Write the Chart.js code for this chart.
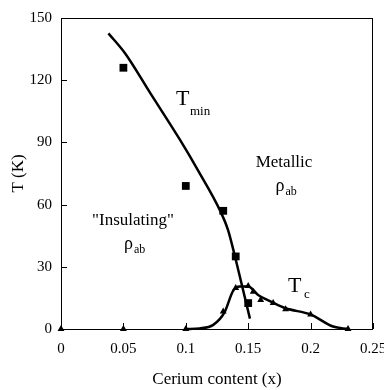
<!DOCTYPE html>
<html>
<head>
<meta charset="utf-8">
<script src="https://cdn.jsdelivr.net/npm/chart.js@4/dist/chart.umd.min.js"></script>
<style>
  html, body { margin: 0; padding: 0; background: #fff; }
  canvas { display: block; }
</style>
</head>
<body>
<canvas id="phase" width="384" height="390"></canvas>
<script>
// Cerium content (x) against temperature T (K)

// T_min measured points (squares)
const tminX = [0.05, 0.10, 0.13, 0.14, 0.15];
const tminT = [126, 69, 57, 35, 12.5];

// T_min guide curve
const tminCurveX = [0.038, 0.0513, 0.0713, 0.0954, 0.11, 0.1274, 0.1338, 0.1394, 0.1454, 0.1514];
const tminCurveT = [142.6, 133, 114, 91.2, 76.3, 57.2, 47.8, 35, 20, 5];

// T_c measured points (triangles)
const tcX = [0, 0.05, 0.10, 0.13, 0.14, 0.15, 0.154, 0.16, 0.17, 0.18, 0.20, 0.23];
const tcT = [0, 0, 0, 8.5, 19.8, 20.7, 18, 14, 12.5, 9.5, 7, 0];

// T_c guide curve
const tcCurveX = [0.10, 0.111, 0.122, 0.131, 0.138, 0.1434, 0.15, 0.158, 0.169, 0.18, 0.20, 0.218, 0.23];
const tcCurveT = [0, 0.3, 2, 8, 18.5, 20.5, 20.5, 16.4, 13, 10, 7, 1.2, 0];

// Axis tick labels
const xTickLabels = ['0', '0.05', '0.1', '0.15', '0.2', '0.25'];
const yTickLabels = ['0', '30', '60', '90', '120', '150'];

const pairs = (xs, ys) => xs.map((v, i) => ({ x: v, y: ys[i] }));

const SERIF = '"Liberation Serif", "Times New Roman", serif';

// Region and curve labels: main text, subscript, anchor in data units
const annotations = [
  { main: 'T', sub: 'min', x: 0.0921, y: 108, mainSize: 22, subSize: 13, subDx: 14, subDy: 10 },
  { main: 'T', sub: 'c', x: 0.1819, y: 17.8, mainSize: 22, subSize: 13, subDx: 16, subDy: 6 },
  { text: 'Metallic', x: 0.1787, y: 78.1, size: 17 },
  { main: '\u03C1', sub: 'ab', x: 0.1719, y: 66.5, mainSize: 18, subSize: 12, subDx: 10, subDy: 4 },
  { text: '"Insulating"', x: 0.0577, y: 50.2, size: 17 },
  { main: '\u03C1', sub: 'ab', x: 0.0505, y: 38.5, mainSize: 18, subSize: 12, subDx: 10, subDy: 4 }
];

const framePlugin = {
  id: 'frame',
  afterDraw(chart) {
    const { ctx, chartArea: { left, right, top, bottom }, scales: { x, y } } = chart;
    ctx.save();
    ctx.strokeStyle = '#000';
    ctx.lineWidth = 1;
    ctx.strokeRect(left + 0.5, top + 0.5, right - left - 1, bottom - top);
    ctx.beginPath();
    x.ticks.forEach(t => {
      const px = Math.round(x.getPixelForValue(t.value)) + 0.5;
      ctx.moveTo(px, bottom);
      ctx.lineTo(px, bottom - 6);
    });
    y.ticks.forEach(t => {
      const py = Math.round(y.getPixelForValue(t.value)) + 0.5;
      ctx.moveTo(left, py);
      ctx.lineTo(left + 6, py);
    });
    ctx.stroke();

    ctx.fillStyle = '#000';
    ctx.textBaseline = 'alphabetic';
    annotations.forEach(a => {
      const px = x.getPixelForValue(a.x);
      const py = y.getPixelForValue(a.y);
      if (a.text) {
        ctx.font = a.size + 'px ' + SERIF;
        ctx.textAlign = 'center';
        ctx.fillText(a.text, px, py);
      } else {
        ctx.textAlign = 'left';
        ctx.font = a.mainSize + 'px ' + SERIF;
        ctx.fillText(a.main, px, py);
        ctx.font = a.subSize + 'px ' + SERIF;
        ctx.fillText(a.sub, px + a.subDx, py + a.subDy);
      }
    });
    ctx.restore();
  }
};

new Chart(document.getElementById('phase'), {
  type: 'scatter',
  data: {
    datasets: [
      {
        type: 'line',
        data: pairs(tminCurveX, tminCurveT),
        borderColor: '#000',
        borderWidth: 2.5,
        pointRadius: 0,
        cubicInterpolationMode: 'monotone',
        fill: false,
        clip: false
      },
      {
        type: 'line',
        data: pairs(tcCurveX, tcCurveT),
        borderColor: '#000',
        borderWidth: 2.5,
        pointRadius: 0,
        cubicInterpolationMode: 'monotone',
        fill: false,
        clip: false
      },
      {
        data: pairs(tminX, tminT),
        pointStyle: 'rect',
        pointRadius: 5.5,
        backgroundColor: '#000',
        borderColor: '#000',
        borderWidth: 0,
        clip: false
      },
      {
        data: pairs(tcX, tcT),
        pointStyle: 'triangle',
        pointRadius: 4,
        backgroundColor: '#000',
        borderColor: '#000',
        borderWidth: 0,
        clip: false
      }
    ]
  },
  options: {
    responsive: false,
    animation: false,
    events: [],
    layout: { padding: { left: 0, right: 11, top: 18, bottom: 0 } },
    plugins: {
      legend: { display: false },
      tooltip: { enabled: false }
    },
    scales: {
      x: {
        type: 'linear',
        min: 0,
        max: 0.25,
        afterFit(scale) {
          scale.height = 61;
          scale.paddingLeft = 0;
          scale.paddingRight = 0;
        },
        grid: { display: false, drawTicks: false },
        border: { display: false },
        ticks: {
          stepSize: 0.05,
          padding: 11,
          color: '#000',
          font: { family: SERIF, size: 15 },
          callback: (v, i) => xTickLabels[i]
        },
        title: {
          display: true,
          text: 'Cerium content (x)',
          color: '#000',
          font: { family: SERIF, size: 17 },
          padding: { top: 14, bottom: 0 }
        }
      },
      y: {
        type: 'linear',
        min: 0,
        max: 150,
        afterFit(scale) {
          scale.width = 61;
          scale.paddingTop = 0;
          scale.paddingBottom = 0;
        },
        grid: { display: false, drawTicks: false },
        border: { display: false },
        ticks: {
          stepSize: 30,
          padding: 9,
          color: '#000',
          font: { family: SERIF, size: 15 },
          callback: (v, i) => yTickLabels[i]
        },
        title: {
          display: true,
          text: 'T (K)',
          color: '#000',
          font: { family: SERIF, size: 17 },
          padding: { top: 8, bottom: 0 }
        }
      }
    }
  },
  plugins: [framePlugin]
});
</script>
</body>
</html>
